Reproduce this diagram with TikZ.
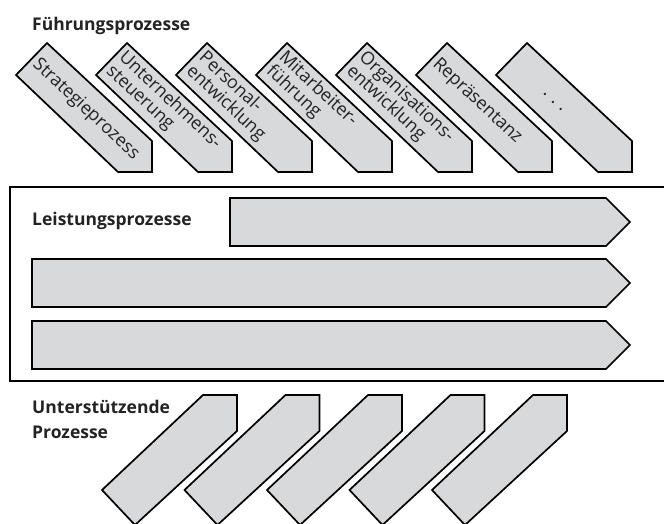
\documentclass[tikz,border=0pt]{standalone}
\usepackage{fontspec}
\setmainfont{Open Sans}
\begin{document}
\begin{tikzpicture}[x=1pt,y=-1pt,
  shp/.style={draw=black, fill=shapegray, line width=1.7pt, line join=miter},
  box/.style={draw=black, line width=1.8pt},
  lbl/.style={font=\fontsize{17.5}{25}\selectfont\bfseries, text=txt, inner sep=0pt, anchor=base west, align=left},
  tt/.style={font=\fontsize{18}{18.5}\selectfont, text=txt, inner sep=0pt, rotate=-43, anchor=west, align=left}]
\definecolor{shapegray}{RGB}{216,217,219}
\definecolor{txt}{RGB}{35,35,35}
\useasboundingbox (0,0) rectangle (664,524);
\begin{scope}
\clip (0,0) rectangle (664,524);
% Fuehrungsprozesse
\node[lbl] (fp) at (32,31) {Führungsprozesse};
\foreach \i in {0,...,6}{
  \draw[shp] ({47+80*\i},43) -- ({152+80*\i},141) -- ({152+80*\i},172) -- ({118+80*\i},172) -- ({16+80*\i},75) -- cycle;
}
\node[tt] (t1) at (35,62) {Strategieprozess};
\node[tt] (t2) at (115,62) {Unternehmens-\\steuerung};
\node[tt] (t3) at (195,62) {Personal-\\entwicklung};
\node[tt] (t4) at (275,62) {Mitarbeiter-\\führung};
\node[tt] (t5) at (355,62) {Organisations-\\entwicklung};
\node[tt] (t6) at (435,62) {Repräsentanz};
\node[tt, anchor=center] (t7) at (553,102) {.\,\,.\,\,.};
% Leistungsprozesse
\draw[box] (10,187) rectangle (700,381);
\node[lbl] (lp) at (32,225) {Leistungsprozesse};
\draw[shp] (230,198) -- (606,198) -- (630,222) -- (606,246) -- (230,246) -- cycle;
\draw[shp] (32,259) -- (606,259) -- (630,283) -- (606,307) -- (32,307) -- cycle;
\draw[shp] (32,321) -- (606,321) -- (630,345) -- (606,369) -- (32,369) -- cycle;
% Unterstuetzende Prozesse
\node[lbl] (up) at (32,438) {Unterstützende\\Prozesse};
\foreach \k in {0,...,4}{
  \pgfmathsetmacro{\R}{237+82.5*\k}
  \draw[shp] ({\R-34},395) -- (\R,395) -- (\R,431) -- ({\R-102},525) -- ({\R-135},490) -- cycle;
}
\end{scope}
\end{tikzpicture}
\end{document}
